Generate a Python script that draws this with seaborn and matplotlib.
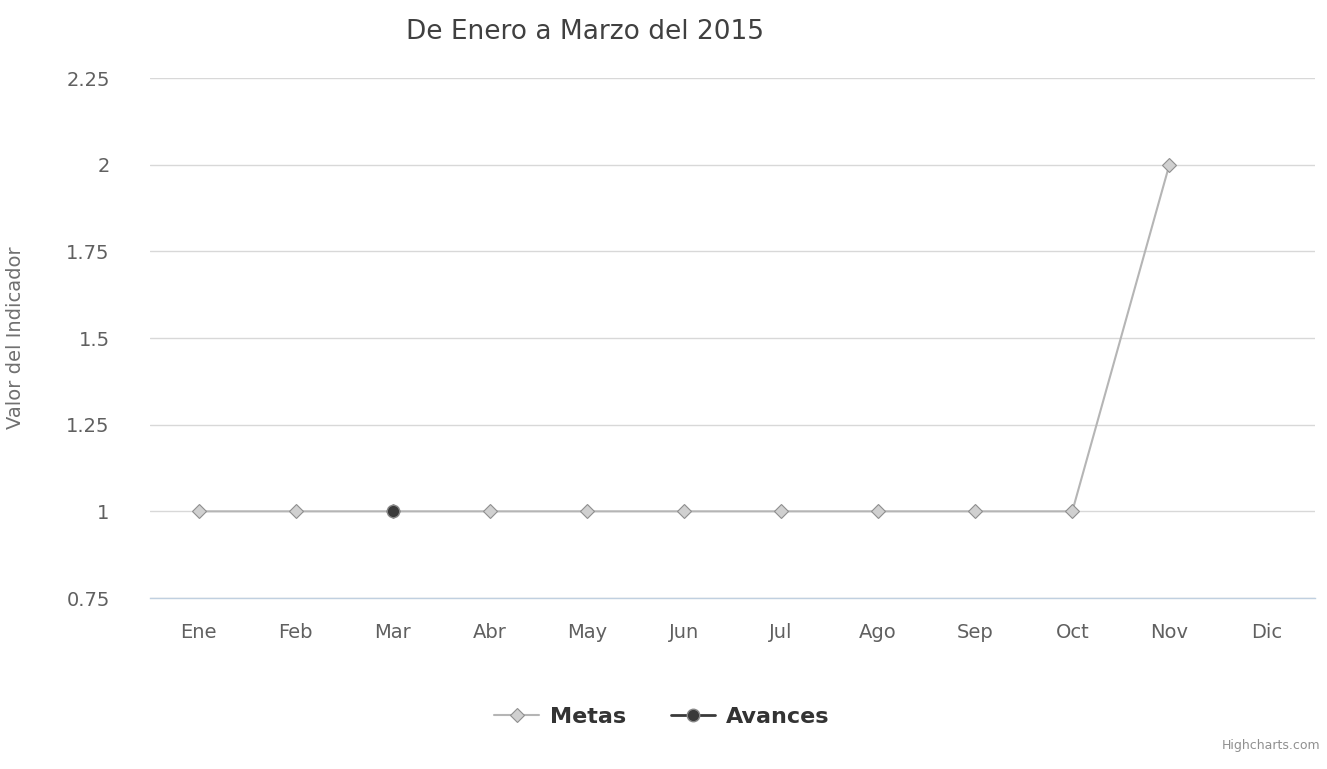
import matplotlib
matplotlib.use("Agg")
import matplotlib.pyplot as plt
import seaborn as sns
import numpy as np
import pandas as pd
from matplotlib.ticker import FixedLocator, FixedFormatter

# ---- data ----
meses = ["Ene", "Feb", "Mar", "Abr", "May", "Jun", "Jul", "Ago", "Sep", "Oct", "Nov", "Dic"]
metas = [1, 1, 1, 1, 1, 1, 1, 1, 1, 1, 2, np.nan]
avances = [np.nan, np.nan, 1, np.nan, np.nan, np.nan, np.nan, np.nan, np.nan, np.nan, np.nan, np.nan]
y_ticks = [0.75, 1, 1.25, 1.5, 1.75, 2, 2.25]
y_tick_labels = ["0.75", "1", "1.25", "1.5", "1.75", "2", "2.25"]
titulo = "De Enero a Marzo del 2015"
y_titulo = "Valor del Indicador"

sns.set_style("white")
plt.rcParams['font.family'] = ['DejaVu Sans']

fig = plt.figure(figsize=(13.27, 7.69), dpi=100)
ax = fig.add_axes([150/1327, 1-598/769, (1315-150)/1327, (598-78)/769])

x_pos = np.arange(len(meses))
df_m = pd.DataFrame({"x": x_pos, "y": metas}).dropna()
df_a = pd.DataFrame({"x": x_pos, "y": avances}).dropna()

c_metas = "#b5b5b5"
c_av = "#3a3a3a"

sns.lineplot(data=df_m, x="x", y="y", ax=ax, color=c_metas, lw=1.5, sort=False,
             marker="D", markersize=7, markerfacecolor="#d0d0d0", markeredgecolor="#8f8f8f",
             markeredgewidth=0.8, label="Metas", legend=False, zorder=3)
sns.lineplot(data=df_a, x="x", y="y", ax=ax, color=c_av, lw=2, sort=False,
             marker="o", markersize=9, markerfacecolor=c_av, markeredgecolor="#888888",
             markeredgewidth=1, label="Avances", legend=False, zorder=4)

ax.set_xlim(-0.5, len(meses) - 0.5)
ax.set_ylim(0.75, 2.25)
ax.yaxis.set_major_locator(FixedLocator(y_ticks))
ax.yaxis.set_major_formatter(FixedFormatter(y_tick_labels))
ax.set_xticks(x_pos)
ax.set_xticklabels(meses)
ax.set_xticks(np.arange(-0.5, len(meses) + 0.5, 1), minor=True)

ax.grid(axis="y", color="#d8d8d8", lw=1)
ax.grid(axis="x", visible=False)
for s in ["top", "right", "left"]:
    ax.spines[s].set_visible(False)
ax.spines["bottom"].set_color("#c0d0e0")
ax.spines["bottom"].set_linewidth(1)

ax.tick_params(axis="x", which="major", length=0, pad=18, labelsize=14, labelcolor="#606060")
ax.tick_params(axis="x", which="minor", length=10, width=1, color="#c0d0e0", direction="out")
ax.tick_params(axis="y", length=0, pad=29, labelsize=14, labelcolor="#606060")

ax.set_xlabel("")
ax.set_ylabel(y_titulo, fontsize=14, color="#707070")
ax.yaxis.set_label_coords(-(150-25)/1165, 0.5)

fig.text(585/1327, 1-32/769, titulo, ha="center", va="center", fontsize=19, color="#404040")

handles, labels = ax.get_legend_handles_labels()
leg = fig.legend(handles, labels, loc="center", bbox_to_anchor=(662/1327, 1-717/769), ncol=2,
                 frameon=False, prop={"weight": "bold", "size": 16}, handlelength=2,
                 columnspacing=2, handletextpad=0.5)
for t in leg.get_texts():
    t.set_color("#333333")

fig.text(1320/1327, 1-745/769, "Highcharts.com", ha="right", va="center", fontsize=9, color="#909090")

fig.savefig("out.png", dpi=100)
